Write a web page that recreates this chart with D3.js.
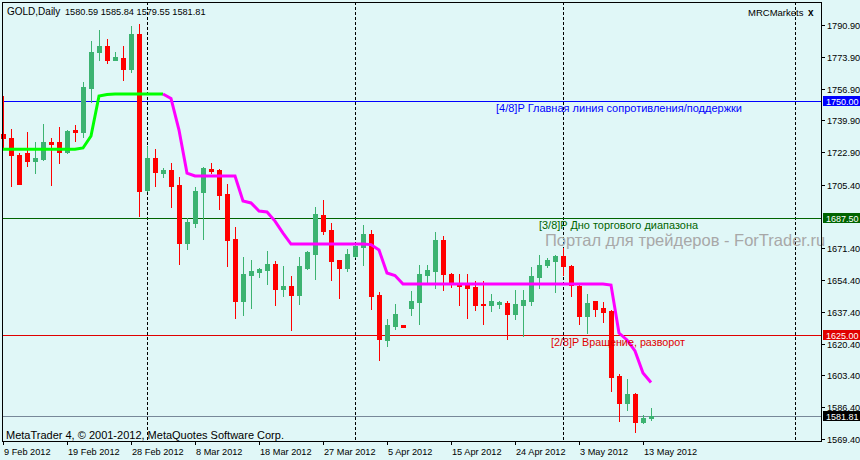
<!DOCTYPE html>
<html>
<head>
<meta charset="utf-8">
<script src="https://cdn.jsdelivr.net/npm/d3@7"></script>
<style>
  body { margin: 0; background: #e0f7f7; }
  svg text { font-family: "Liberation Sans", Arial, sans-serif; }
</style>
</head>
<body>
<div id="chart"></div>
<script>
// GOLD daily candles, 9 Feb 2012 .. 14 May 2012 (one bar per trading day, Sundays included)
const opens = [1732.6, 1730.6, 1721.5, 1722.4, 1718.3, 1719.2, 1728.3, 1728.3, 1723.1, 1734.6,
  1733.8, 1757.4, 1776.6, 1779.7, 1772.2, 1773.2, 1767.4, 1786.1, 1702.8, 1719.7,
  1711.9, 1713.3, 1705.3, 1674.4, 1685.1, 1701.7, 1713.9, 1713.3, 1700.5, 1676.4,
  1643.4, 1657.1, 1658.8, 1659.8, 1663.0, 1649.7, 1651.3, 1646.4, 1660.9, 1668.4,
  1689.2, 1681.2, 1665.2, 1660.9, 1667.3, 1672.3, 1679.2, 1646.4, 1622.5, 1630.0,
  1630.4, 1639.7, 1642.9, 1657.3, 1659.5, 1675.9, 1657.9, 1653.0, 1652.0, 1650.9,
  1641.6, 1641.3, 1641.8, 1642.3, 1636.4, 1641.3, 1643.4, 1656.2, 1662.5, 1664.6,
  1667.3, 1662.1, 1651.4, 1635.4, 1643.2, 1639.5, 1638.1, 1603.3, 1588.9, 1593.6,
  1578.7, 1580.59];
const highs = [1752.9, 1735.4, 1722.6, 1733.7, 1728.3, 1737.9, 1730.4, 1736.3, 1734.5, 1737.2,
  1760.4, 1782.3, 1788.2, 1783.4, 1776.3, 1779.7, 1790.4, 1791.4, 1726.0, 1724.6,
  1714.4, 1717.1, 1709.6, 1687.8, 1704.2, 1714.9, 1717.1, 1713.9, 1705.8, 1682.8,
  1666.8, 1665.2, 1660.9, 1670.0, 1664.6, 1662.0, 1656.6, 1666.8, 1670.0, 1693.5,
  1697.3, 1684.8, 1665.2, 1671.1, 1674.4, 1683.9, 1681.2, 1648.2, 1633.8, 1641.6,
  1630.4, 1648.8, 1662.7, 1662.7, 1680.3, 1678.2, 1658.2, 1657.9, 1657.7, 1654.1,
  1653.9, 1647.1, 1643.0, 1643.4, 1649.3, 1649.3, 1661.6, 1668.0, 1666.0, 1667.9,
  1671.6, 1662.3, 1653.0, 1647.1, 1643.4, 1642.9, 1638.6, 1604.4, 1601.7, 1594.0,
  1582.4, 1585.84];
const lows = [1725.6, 1704.9, 1705.8, 1715.6, 1711.7, 1718.7, 1705.5, 1717.2, 1722.6, 1728.7,
  1731.1, 1749.5, 1772.3, 1770.7, 1772.0, 1761.5, 1765.8, 1688.9, 1702.3, 1704.9,
  1709.7, 1693.7, 1663.2, 1671.2, 1683.0, 1676.6, 1711.7, 1692.5, 1662.1, 1634.3,
  1635.9, 1639.7, 1656.1, 1652.3, 1641.1, 1645.9, 1627.7, 1641.6, 1660.5, 1655.0,
  1679.1, 1654.5, 1644.8, 1659.3, 1667.0, 1662.7, 1639.1, 1611.8, 1619.3, 1628.4,
  1629.5, 1635.9, 1631.1, 1653.0, 1650.4, 1649.3, 1650.9, 1641.3, 1634.3, 1638.6,
  1631.1, 1638.1, 1639.7, 1623.1, 1633.8, 1624.7, 1641.3, 1650.4, 1661.6, 1648.2,
  1657.3, 1646.1, 1631.1, 1626.3, 1635.4, 1632.2, 1595.3, 1579.2, 1585.1, 1573.3,
  1578.1, 1579.55];
const closes = [1730.4, 1721.5, 1706.0, 1718.3, 1719.7, 1728.3, 1727.2, 1723.1, 1734.2, 1733.7,
  1757.7, 1776.5, 1779.7, 1772.2, 1773.9, 1767.4, 1786.1, 1702.3, 1719.7, 1712.4,
  1713.3, 1704.9, 1674.4, 1685.7, 1702.1, 1714.4, 1712.8, 1699.9, 1676.0, 1643.4,
  1657.7, 1659.3, 1660.4, 1663.0, 1649.7, 1651.3, 1646.4, 1662.0, 1669.5, 1689.8,
  1680.9, 1664.6, 1660.9, 1668.4, 1672.8, 1679.2, 1646.1, 1623.1, 1630.4, 1636.3,
  1629.5, 1643.4, 1657.9, 1660.0, 1676.0, 1657.9, 1653.0, 1651.4, 1650.4, 1641.3,
  1641.3, 1643.4, 1642.9, 1636.4, 1641.8, 1643.9, 1656.8, 1662.7, 1665.2, 1667.3,
  1662.1, 1652.0, 1635.4, 1642.3, 1639.1, 1637.5, 1602.7, 1588.9, 1593.6, 1578.7,
  1580.8, 1581.81];

// trend indicator, one value per bar; green up to bar 20, magenta after
const trendValues = [1724.4, 1724.4, 1724.4, 1724.4, 1724.4, 1724.4, 1724.4, 1724.4, 1724.4, 1724.4,
  1725.1, 1731.5, 1752.9, 1753.7, 1754.0, 1754.0, 1754.0, 1754.0, 1754.0, 1754.0,
  1754.0, 1751.6, 1734.7, 1711.7, 1710.1, 1710.1, 1710.1, 1710.1, 1710.1, 1710.1,
  1696.7, 1695.7, 1691.4, 1690.9, 1686.0, 1679.6, 1673.7, 1673.7, 1673.7, 1673.7,
  1673.7, 1673.7, 1673.7, 1673.7, 1673.7, 1673.7, 1673.4, 1670.5, 1658.2, 1656.9,
  1652.3, 1652.3, 1652.3, 1652.3, 1652.3, 1652.3, 1652.3, 1652.3, 1652.3, 1652.3,
  1652.3, 1652.3, 1652.3, 1652.3, 1652.3, 1652.3, 1652.3, 1652.3, 1652.3, 1652.3,
  1652.3, 1652.3, 1652.3, 1652.3, 1652.3, 1652.3, 1651.8, 1626.1, 1622.4, 1616.5,
  1604.7, 1599.6];
const trendSwitchBar = 20;

// Murrey levels
const levelPrices = [1750.0, 1687.5, 1625.0];
const levelNames = ["[4/8]P Главная линия сопротивления/поддержки",
  "[3/8]P Дно торгового диапазона", "[2/8]P Вращение, разворот"];

// axes
const priceTicks = [1790.90, 1773.90, 1756.90, 1739.90, 1722.90, 1705.40,
  1671.40, 1654.40, 1637.40, 1620.40, 1603.40, 1586.40, 1569.40];
const dateTickBars = [0, 8, 16, 24, 32, 40, 48, 56, 64, 72, 80];
const dateTickLabels = ["9 Feb 2012", "19 Feb 2012", "28 Feb 2012", "8 Mar 2012", "18 Mar 2012",
  "27 Mar 2012", "5 Apr 2012", "15 Apr 2012", "24 Apr 2012", "3 May 2012", "13 May 2012"];
const monthStartBars = [18, 44, 70, 99];

const width = 860, height = 460;
const plot = { left: 2, top: 2, right: 821, bottom: 441 };
const bg = "#e0f7f7";
const upColor = "#3cb371", downColor = "#ff0000";
const levelColors = ["#0000ff", "#006400", "#e00000"];
const axisFont = 9.2;

const x = d3.scaleLinear().domain([0, 81]).range([3, 651]);
const y = d3.scaleLinear().domain([1568.33, 1803.21]).range([plot.bottom, plot.top]);
const py = v => Math.round(y(v));

const svg = d3.select("#chart").append("svg")
  .attr("width", width)
  .attr("height", height)
  .style("display", "block");

svg.append("rect").attr("width", width).attr("height", height).attr("fill", bg);

// month separators
svg.append("g").selectAll("line")
  .data(monthStartBars)
  .join("line")
  .attr("x1", d => Math.round(x(d)) + 0.5)
  .attr("x2", d => Math.round(x(d)) + 0.5)
  .attr("y1", plot.top)
  .attr("y2", plot.bottom)
  .attr("stroke", "#000")
  .attr("stroke-dasharray", "3,2");

// level lines and bid line
svg.append("g").selectAll("line")
  .data(levelPrices)
  .join("line")
  .attr("x1", plot.left)
  .attr("x2", plot.right)
  .attr("y1", d => py(d) + 0.5)
  .attr("y2", d => py(d) + 0.5)
  .attr("stroke", (d, i) => levelColors[i]);

const last = opens.length - 1;
svg.append("line")
  .attr("x1", plot.left).attr("x2", plot.right)
  .attr("y1", py(closes[last]) + 0.5).attr("y2", py(closes[last]) + 0.5)
  .attr("stroke", "#778899");

// candles
const bars = d3.range(opens.length);
const candles = svg.append("g").selectAll("g")
  .data(bars)
  .join("g")
  .attr("fill", i => closes[i] >= opens[i] ? upColor : downColor)
  .attr("stroke", i => closes[i] >= opens[i] ? upColor : downColor);

candles.append("line")
  .attr("x1", i => Math.round(x(i)) + 0.5)
  .attr("x2", i => Math.round(x(i)) + 0.5)
  .attr("y1", i => py(highs[i]))
  .attr("y2", i => py(lows[i]) + 1);

candles.append("rect")
  .attr("stroke", "none")
  .attr("x", i => Math.round(x(i)) - 2)
  .attr("width", 5)
  .attr("y", i => py(Math.max(opens[i], closes[i])))
  .attr("height", i => Math.max(2, py(Math.min(opens[i], closes[i])) - py(Math.max(opens[i], closes[i])) + 1));

// trend line
const trendLine = d3.line().x(i => x(i)).y(i => y(trendValues[i]));
svg.append("path")
  .attr("d", trendLine(bars.filter(i => i <= trendSwitchBar)))
  .attr("fill", "none").attr("stroke", "#00ff00").attr("stroke-width", 3);
svg.append("path")
  .attr("d", trendLine(bars.filter(i => i >= trendSwitchBar)))
  .attr("fill", "none").attr("stroke", "#ff00ff").attr("stroke-width", 3);

// level captions
const captionX = [496, 539, 551];
const captionWidth = [246, 159, 134];
svg.append("g").selectAll("text")
  .data(levelNames)
  .join("text")
  .attr("x", (d, i) => captionX[i])
  .attr("y", (d, i) => py(levelPrices[i]) + 11)
  .attr("font-size", 10.8)
  .attr("textLength", (d, i) => captionWidth[i])
  .attr("lengthAdjust", "spacingAndGlyphs")
  .attr("fill", (d, i) => levelColors[i])
  .text(d => d);

svg.append("text")
  .attr("x", 545).attr("y", 246)
  .attr("font-size", 16.5)
  .attr("fill", "#a8a8a8")
  .text("Портал для трейдеров - ForTrader.ru");

// frame
svg.append("rect")
  .attr("x", plot.left + 0.5).attr("y", plot.top + 0.5)
  .attr("width", plot.right - plot.left).attr("height", plot.bottom - plot.top)
  .attr("fill", "none").attr("stroke", "#000");

// price axis
const yAxis = svg.append("g");
yAxis.selectAll("line")
  .data(priceTicks)
  .join("line")
  .attr("x1", plot.right + 1).attr("x2", plot.right + 4)
  .attr("y1", d => py(d) + 0.5).attr("y2", d => py(d) + 0.5)
  .attr("stroke", "#000");
yAxis.selectAll("text")
  .data(priceTicks)
  .join("text")
  .attr("x", 827)
  .attr("y", d => py(d) + 4)
  .attr("font-size", axisFont)
  .attr("fill", "#000")
  .text(d => d.toFixed(2));

// price boxes
const boxPrices = levelPrices.concat([closes[last]]);
const boxColors = levelColors.concat(["#000"]);
const boxes = svg.append("g").selectAll("g")
  .data(boxPrices)
  .join("g")
  .attr("transform", d => `translate(${plot.right + 2},${py(d) - 5})`);
boxes.append("rect")
  .attr("width", width - plot.right - 2).attr("height", 10)
  .attr("fill", (d, i) => boxColors[i]);
boxes.append("text")
  .attr("x", 3).attr("y", 8.5)
  .attr("font-size", 9)
  .attr("fill", "#fff")
  .text(d => d.toFixed(2));

// date axis
const xAxis = svg.append("g");
xAxis.selectAll("line")
  .data(dateTickBars)
  .join("line")
  .attr("x1", d => Math.round(x(d)) + 0.5).attr("x2", d => Math.round(x(d)) + 0.5)
  .attr("y1", plot.bottom).attr("y2", plot.bottom + 4)
  .attr("stroke", "#000");
xAxis.selectAll("text")
  .data(dateTickBars)
  .join("text")
  .attr("x", d => Math.round(x(d)) + 1)
  .attr("y", 455)
  .attr("font-size", axisFont)
  .attr("fill", "#000")
  .text((d, i) => dateTickLabels[i]);

// header and footer texts
svg.append("text")
  .attr("x", 7).attr("y", 15).attr("font-size", 10).attr("fill", "#000")
  .text("GOLD,Daily");
svg.append("text")
  .attr("x", 65).attr("y", 15).attr("font-size", axisFont).attr("fill", "#000")
  .text([opens[last], highs[last], lows[last], closes[last]].map(v => v.toFixed(2)).join(" "));
svg.append("text")
  .attr("x", 748).attr("y", 16).attr("font-size", 9.5).attr("fill", "#000")
  .text("MRCMarkets");
svg.append("text")
  .attr("x", 808).attr("y", 16).attr("font-size", 10).attr("font-weight", "bold").attr("fill", "#000")
  .text("x");
svg.append("text")
  .attr("x", 6).attr("y", 439).attr("font-size", 11).attr("fill", "#000")
  .text("MetaTrader 4, © 2001-2012, MetaQuotes Software Corp.");
</script>
</body>
</html>
